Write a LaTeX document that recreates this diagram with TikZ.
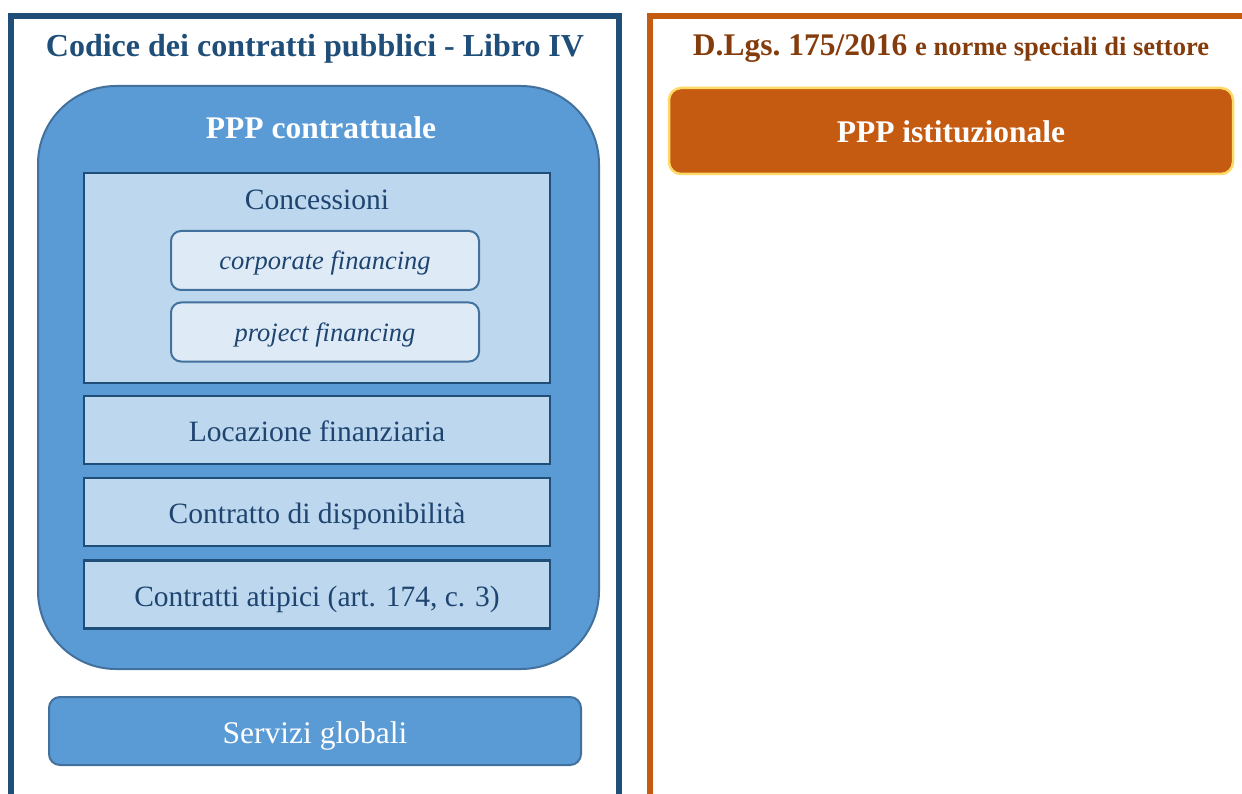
\documentclass[tikz,border=0pt]{standalone}
\usepackage{fontspec}
\setmainfont{Liberation Serif}
\definecolor{frameblue}{RGB}{31,78,121}
\definecolor{frameorange}{RGB}{197,90,17}
\definecolor{midblue}{RGB}{91,155,213}
\definecolor{bordblue}{RGB}{65,113,156}
\definecolor{lightblue}{RGB}{189,215,238}
\definecolor{paleblue}{RGB}{222,235,247}
\definecolor{textblue}{RGB}{30,68,112}
\definecolor{titlebrown}{RGB}{132,60,12}
\definecolor{yellowb}{RGB}{255,217,102}
\tikzset{
  frameline/.style={line width=5.5pt},
  bigbox/.style={draw=bordblue,fill=midblue,line width=2pt,rounded corners=78pt,inner sep=0pt},
  rowbox/.style={draw=frameblue,fill=lightblue,line width=2.5pt,minimum width=466pt,minimum height=68pt,inner sep=0pt,text height=25pt,text depth=2pt,text=textblue,font=\fontsize{29.5}{33}\selectfont},
  finbox/.style={draw=bordblue,fill=paleblue,line width=2pt,rounded corners=10pt,minimum width=308pt,minimum height=59pt,inner sep=0pt,text height=21pt,text depth=2pt,text=textblue,font=\fontsize{26.5}{30}\selectfont\itshape},
  servbox/.style={draw=bordblue,fill=midblue,line width=2pt,rounded corners=11pt,minimum width=532pt,minimum height=68pt,inner sep=0pt,text height=26pt,text depth=2pt,text=white,font=\fontsize{31.5}{34}\selectfont},
  istbox/.style={draw=yellowb,fill=frameorange,line width=2.5pt,rounded corners=12pt,minimum width=564pt,minimum height=86pt,inner sep=0pt,text height=26pt,text depth=2pt,text=white,font=\bfseries\fontsize{31.5}{35}\selectfont},
  lbl/.style={inner sep=0pt}
}
\begin{document}
\begin{tikzpicture}[x=1pt,y=-1pt]
\useasboundingbox (0,0) rectangle (1242,794);
% frames
\draw[frameline,frameblue] (11,794) -- (11,16) -- (619,16) -- (619,794);
\draw[frameline,frameorange] (650,794) -- (650,16) -- (1242,16);
% titles
\node[lbl,anchor=base,text=frameblue,font=\bfseries\fontsize{32}{36}\selectfont] (titleL) at (315,57) {Codice dei contratti pubblici - Libro IV};
\node[lbl,anchor=base,text=titlebrown] (titleR) at (951,56) {\bfseries\fontsize{31.5}{34}\selectfont D.Lgs.\ 175/2016 \fontsize{26.5}{30}\selectfont e norme speciali di settore};
% big box
\node[bigbox,minimum width=561pt,minimum height=583pt] (ppp) at (318.5,377.5) {};
\node[lbl,anchor=base,text=white,font=\bfseries\fontsize{31.5}{35}\selectfont] (pppt) at (321,139) {PPP contrattuale};
% concessioni
\node[rowbox,minimum height=210pt] (conc) at (317,278) {};
\node[lbl,anchor=base,text=textblue,font=\fontsize{29.5}{33}\selectfont] (conct) at (317,210) {Concessioni};
\node[finbox] (corp) at (325,260.5) {corporate financing};
\node[finbox] (proj) at (325,332) {project financing};
% rows
\node[rowbox] (loc) at (317,430) {Locazione finanziaria};
\node[rowbox] (disp) at (317,512) {Contratto di disponibilità};
\node[rowbox] (atip) at (317,594.5) {Contratti atipici (art. 174, c. 3)};
% servizi globali
\node[servbox] (serv) at (315,731) {Servizi globali};
% PPP istituzionale
\node[istbox] (ist) at (951,131) {PPP istituzionale};
\end{tikzpicture}
\end{document}
